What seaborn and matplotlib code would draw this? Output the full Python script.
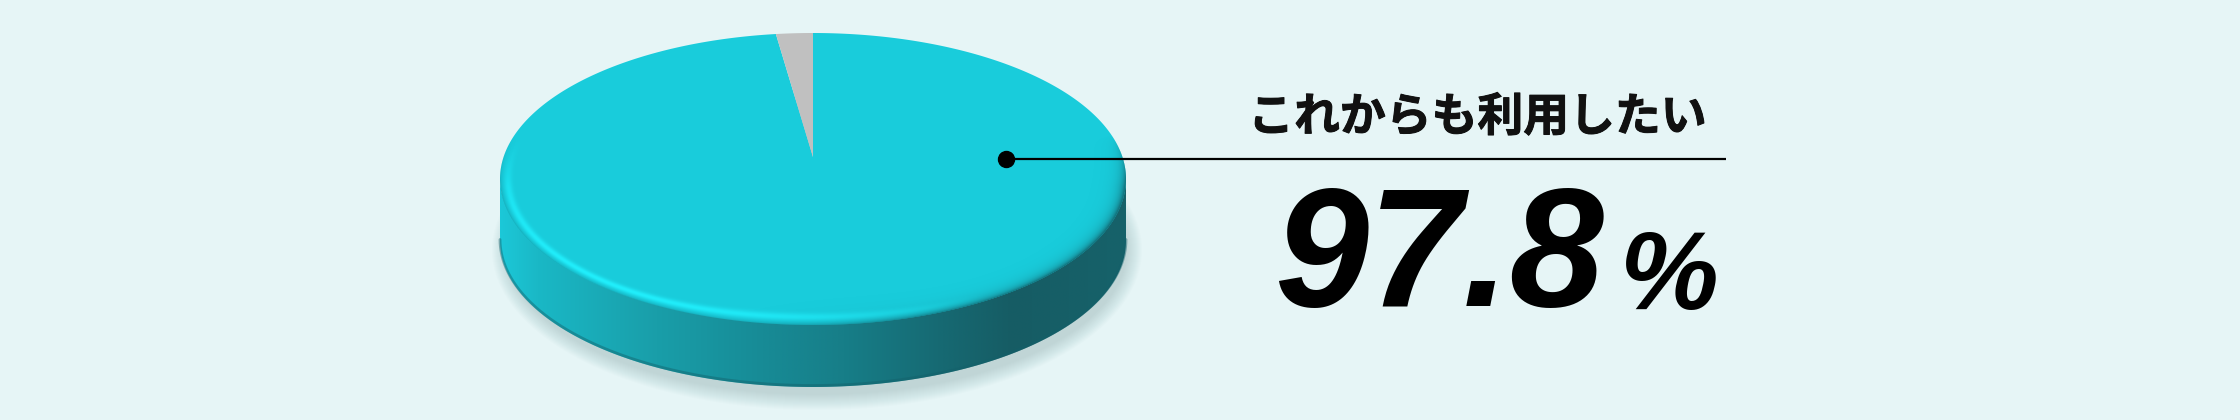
import numpy as np
import matplotlib
matplotlib.use("Agg")
import matplotlib.pyplot as plt
import seaborn as sns
import matplotlib.patheffects as pe
from matplotlib.patches import Polygon, Ellipse
from matplotlib.colors import to_rgb
from matplotlib.transforms import Transform
from matplotlib.path import Path

# ---- data ----
categories = ["これからも利用したい", "その他"]
values = [97.8, 2.2]
label_text = "これからも利用したい"
value_text = "97.8"
unit_text = "%"

# ---- style ----
sns.set_theme(style="white")
plt.rcParams['font.family'] = ['Noto Sans CJK JP', 'DejaVu Sans']

BG = "#e6f5f6"
TOP = "#19ccdb"
GRAY = "#c0c0c0"
W, H = 2240, 420
DPI = 100

fig = plt.figure(figsize=(W / DPI, H / DPI), dpi=DPI, facecolor=BG)

# geometry of the 3D pie (pixels)
cx, cy, a, b, depth = 813, 179, 313, 146, 62
P = 0.15  # perspective shift of the disc centre


class Perspective(Transform):
    """Projective map of the unit disc onto itself (tilted view)."""
    input_dims = 2
    output_dims = 2
    is_separable = False
    has_inverse = False

    def transform_non_affine(self, values):
        v = np.asarray(values, dtype=float)
        x, y = v[:, 0], v[:, 1]
        den = 1 + P * y
        return np.column_stack([x * np.sqrt(1 - P * P) / den, (y + P) / den])

    def transform_path_non_affine(self, path):
        pts, codes = [], []
        start = None
        last = None
        for seg, code in path.iter_bezier():
            if code == Path.MOVETO:
                p = seg.control_points[0]
                pts.append(p)
                codes.append(Path.MOVETO)
                start = p
                last = p
            elif code == Path.CLOSEPOLY:
                s = np.linspace(0, 1, 16)[1:]
                seg_pts = last + (start - last) * s[:, None]
                pts.extend(seg_pts)
                codes.extend([Path.LINETO] * len(seg_pts))
                last = start
            else:
                n = 48 if code != Path.LINETO else 16
                s = np.linspace(0, 1, n + 1)[1:]
                seg_pts = seg(s)
                pts.extend(seg_pts)
                codes.extend([Path.LINETO] * len(seg_pts))
                last = seg_pts[-1]
        pts = np.array(pts, dtype=float)
        return Path(self.transform_non_affine(pts), codes)


def pix_axes(z):
    ax = fig.add_axes([0, 0, 1, 1], zorder=z)
    ax.set_xlim(0, W)
    ax.set_ylim(H, 0)
    ax.axis("off")
    ax.patch.set_alpha(0)
    return ax


base = pix_axes(0)

# shadow
for i in range(16):
    e = Ellipse((cx + 4, cy + depth + 9), 2 * a + 24 - i * 2.0, 2 * b + 28 - i * 2.0,
                facecolor="#7fa7ab", edgecolor="none", alpha=0.022)
    base.add_patch(e)

# side band
t = np.linspace(0, np.pi, 400)
xs = cx + a * np.cos(t)
top_y = cy + b * np.sin(t)
bot_y = cy + depth + b * np.sin(t)
verts = np.vstack([np.column_stack([xs, top_y - 2]), np.column_stack([xs[::-1], bot_y[::-1]])])
side_poly = Polygon(verts, closed=True, facecolor="none", edgecolor="none")
base.add_patch(side_poly)

stops_x = [0.0, 0.06, 0.25, 0.42, 0.55, 0.70, 0.82, 1.0]
stops_c = ["#1cc8d8", "#1ab8c6", "#199ea9", "#178b96", "#177e88", "#166a73", "#165c64", "#16626a"]
N = 600
u = np.linspace(0, 1, N)
grad = np.zeros((1, N, 3))
cols = np.array([to_rgb(c) for c in stops_c])
for k in range(3):
    grad[0, :, k] = np.interp(u, stops_x, cols[:, k])
im = base.imshow(grad, extent=(cx - a, cx + a, cy + b + depth, cy - 5), aspect="auto",
                 interpolation="bilinear", zorder=2)
im.set_clip_path(side_poly)
base.plot(xs, bot_y - 1.5, color="#13606a", lw=2, alpha=0.45, zorder=3)
base.set_xlim(0, W)
base.set_ylim(H, 0)

# pie top face
pie_ax = fig.add_axes([(cx - a) / W, 1 - (cy + b) / H, 2 * a / W, 2 * b / H], zorder=1)
wedges, _ = pie_ax.pie(values, colors=[TOP, GRAY], startangle=90, counterclock=False, radius=1,
                       wedgeprops=dict(linewidth=0, antialiased=True))
persp = Perspective()
for wdg in wedges:
    wdg.set_transform(persp + pie_ax.transData)
pie_ax.set_xlim(-1, 1)
pie_ax.set_ylim(-1, 1)
pie_ax.set_aspect("auto")
pie_ax.axis("off")
pie_ax.patch.set_alpha(0)

over = pix_axes(2)

# bevel shading of the top face rim
xx = np.arange(cx - a, cx + a) + 0.5
yy = np.arange(cy - b, cy + b) + 0.5
X, Y = np.meshgrid(xx, yy)
nx, ny = (X - cx) / a, (Y - cy) / b
r = np.hypot(nx, ny)
th = np.arctan2(ny, nx)  # +90deg = front (down)
R = np.hypot(a * np.cos(th), b * np.sin(th))
d = (1 - r) * R
inside = np.clip(d + 0.5, 0, 1)
front = np.clip((np.sin(th) + 0.3) / 0.35, 0, 1)

ang = th - np.deg2rad(133)
ang = np.where(ang < -np.pi, ang + 2 * np.pi, ang)
hl_w = np.clip(np.cos(ang * 1.15), 0, 1)
hl_w = np.where(np.abs(ang) > np.deg2rad(78), 0, hl_w)
hl_a = 0.9 * hl_w * np.exp(-((d - 8.0) / 4.0) ** 2) * front * inside

dk_w = np.clip(np.cos(th - np.deg2rad(15)), 0, 1) ** 1.2
dk_a = (0.85 * dk_w * np.exp(-d / 6.5) + 0.30 * np.exp(-d / 2.2)) * front * inside
dk_a = np.clip(dk_a, 0, 0.9)

dark_img = np.zeros(X.shape + (4,))
dark_img[..., :3] = to_rgb("#136f79")
dark_img[..., 3] = dk_a
hl_img = np.zeros(X.shape + (4,))
hl_img[..., :3] = to_rgb("#22f2ff")
hl_img[..., 3] = hl_a
ext = (cx - a, cx + a, cy + b, cy - b)
over.imshow(dark_img, extent=ext, aspect="auto", interpolation="bilinear", zorder=1)
over.imshow(hl_img, extent=ext, aspect="auto", interpolation="bilinear", zorder=1)
over.set_xlim(0, W)
over.set_ylim(H, 0)

# leader dot and line
dot_x, dot_y = 1006, 159
line_end = 1726
over.plot([dot_x, line_end], [dot_y, dot_y], color="black", lw=1.6, solid_capstyle="butt", zorder=3)
over.plot([dot_x], [dot_y], marker="o", ms=11.5, color="black", mec="black", zorder=4)

# texts
over.text(1707, 118, label_text, ha="right", va="center", fontsize=33,
          fontweight="bold", color="#111111", family=['Noto Sans CJK JP', 'DejaVu Sans'],
          path_effects=[pe.withStroke(linewidth=0.7, foreground="#111111")])
over.text(1604, 306, value_text, ha="right", va="baseline", fontsize=122,
          fontweight="bold", fontstyle="italic", color="black",
          family=['Liberation Sans', 'DejaVu Sans'])
over.text(1620, 309, unit_text, ha="left", va="baseline", fontsize=80,
          fontweight="bold", fontstyle="italic", color="black",
          family=['Liberation Sans', 'DejaVu Sans'])

fig.savefig("out.png", dpi=DPI, facecolor=BG)
